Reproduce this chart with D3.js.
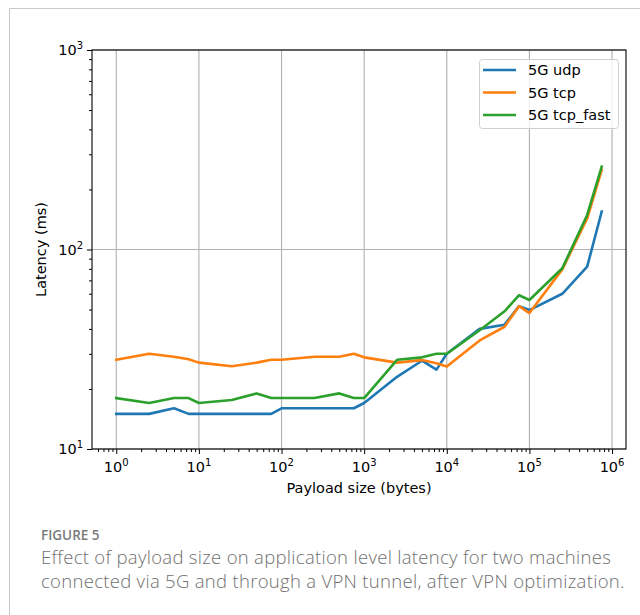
<!DOCTYPE html>
<html>
<head>
<meta charset="utf-8">
<script src="https://cdn.jsdelivr.net/npm/d3@7"></script>
<style>
  body { margin: 0; background: #fff; }
  svg { display: block; }
</style>
</head>
<body>
<div id="chart"></div>
<script>
// payload sizes (bytes) and latency per series (ms)
const payloadSizes = [1, 2.5, 5, 7.5, 10, 25, 50, 75, 100, 250, 500, 750, 1000, 2500, 5000, 7500,
  10000, 25000, 50000, 75000, 100000, 250000, 500000, 750000];
const udpLatency = [15, 15, 16, 15, 15, 15, 15, 15, 16, 16, 16, 16, 17, 23, 27.7, 25,
  30, 40, 42, 52, 49.7, 60, 82, 155];
const tcpLatency = [28, 30, 29, 28.2, 27.1, 26, 27.1, 28, 28, 29, 29, 30, 28.8, 27.1, 27.9, 26.9,
  25.9, 35, 41, 52, 48, 79.5, 143, 251];
const tcpFastLatency = [18, 17, 18, 18, 17, 17.6, 19, 18, 18, 18, 19, 18, 18, 28, 28.8, 30,
  30, 39.4, 49, 59, 55.8, 80.5, 149, 260];
const seriesNames = ["5G udp", "5G tcp", "5G tcp_fast"];
const seriesColors = ["#1f77b4", "#ff7f0e", "#2ca02c"];
const xTickExps = [0, 1, 2, 3, 4, 5, 6];
const yTickExps = [1, 2, 3];
const captionTitle = "FIGURE 5";
const captionLines = [
  "Effect of payload size on application level latency for two machines",
  "connected via 5G and through a VPN tunnel, after VPN optimization."
];

const width = 640;
const height = 615;
const margin = { left: 92, top: 50, right: 14, bottom: 166 };
const plotW = width - margin.left - margin.right;
const plotH = height - margin.top - margin.bottom;
const mplFont = "'DejaVu Sans', sans-serif";

const series = [udpLatency, tcpLatency, tcpFastLatency].map((vals, i) => ({
  name: seriesNames[i],
  color: seriesColors[i],
  points: payloadSizes.map((s, j) => ({ size: s, latency: vals[j] }))
}));

const svg = d3.select("#chart").append("svg")
  .attr("width", width)
  .attr("height", height);

// thin frame round the figure (left and top only are visible)
svg.append("path")
  .attr("d", `M9.5,${height} V8.5 H${width}`)
  .attr("fill", "none")
  .attr("stroke", "#c8c8c8")
  .attr("stroke-width", 1);

// log scales with matplotlib style 5% margins on x
const logMin = Math.log10(d3.min(payloadSizes));
const logMax = Math.log10(d3.max(payloadSizes));
const pad = (logMax - logMin) * 0.05;
const x = d3.scaleLog()
  .domain([Math.pow(10, logMin - pad), Math.pow(10, logMax + pad)])
  .range([0, plotW]);
const y = d3.scaleLog()
  .domain([10, 1000])
  .range([plotH, 0]);

const g = svg.append("g")
  .attr("transform", `translate(${margin.left},${margin.top})`);

// major grid lines
g.append("g")
  .selectAll("line")
  .data(xTickExps)
  .join("line")
  .attr("x1", d => x(Math.pow(10, d)))
  .attr("x2", d => x(Math.pow(10, d)))
  .attr("y1", 0)
  .attr("y2", plotH)
  .attr("stroke", "#b0b0b0")
  .attr("stroke-width", 1.1);

g.append("g")
  .selectAll("line")
  .data(yTickExps)
  .join("line")
  .attr("x1", 0)
  .attr("x2", plotW)
  .attr("y1", d => y(Math.pow(10, d)))
  .attr("y2", d => y(Math.pow(10, d)))
  .attr("stroke", "#b0b0b0")
  .attr("stroke-width", 1.1);

// axes: major ticks with custom labels, minor ticks without
const xMinor = [];
for (let e = -1; e <= 6; e++) {
  for (let m = 2; m <= 9; m++) {
    const v = m * Math.pow(10, e);
    if (v >= x.domain()[0] && v <= x.domain()[1]) xMinor.push(v);
  }
}
const yMinor = [];
for (let e = 1; e < 3; e++) {
  for (let m = 2; m <= 9; m++) yMinor.push(m * Math.pow(10, e));
}

const xMinorAxis = g.append("g")
  .attr("transform", `translate(0,${plotH})`)
  .call(d3.axisBottom(x).tickValues(xMinor).tickSize(3).tickFormat(""));
const yMinorAxis = g.append("g")
  .call(d3.axisLeft(y).tickValues(yMinor).tickSize(3).tickFormat(""));

const xAxis = g.append("g")
  .attr("transform", `translate(0,${plotH})`)
  .call(d3.axisBottom(x).tickValues(xTickExps.map(e => Math.pow(10, e))).tickSize(5).tickFormat(""));
const yAxis = g.append("g")
  .call(d3.axisLeft(y).tickValues(yTickExps.map(e => Math.pow(10, e))).tickSize(5).tickFormat(""));

[xMinorAxis, yMinorAxis, xAxis, yAxis].forEach(a => {
  a.select(".domain").remove();
  a.selectAll(".tick line").attr("stroke", "#000").attr("stroke-width", 1);
});

// power-of-ten tick labels
const xLabels = g.append("g")
  .selectAll("text")
  .data(xTickExps)
  .join("text")
  .attr("x", d => x(Math.pow(10, d)))
  .attr("y", plotH + 23)
  .attr("text-anchor", "middle")
  .style("font-family", mplFont)
  .style("font-size", "14.5px")
  .style("fill", "#000");
xLabels.append("tspan").text("10");
xLabels.append("tspan").attr("dy", -6).style("font-size", "10px").text(d => d);

const yLabels = g.append("g")
  .selectAll("text")
  .data(yTickExps)
  .join("text")
  .attr("x", -9)
  .attr("y", d => y(Math.pow(10, d)) + 5)
  .attr("text-anchor", "end")
  .style("font-family", mplFont)
  .style("font-size", "14.5px")
  .style("fill", "#000");
yLabels.append("tspan").text("10");
yLabels.append("tspan").attr("dy", -6).style("font-size", "10px").text(d => d);

// axis titles
g.append("text")
  .attr("x", plotW / 2)
  .attr("y", plotH + 44)
  .attr("text-anchor", "middle")
  .style("font-family", mplFont)
  .style("font-size", "14.5px")
  .text("Payload size (bytes)");

g.append("text")
  .attr("transform", `translate(${-46},${plotH / 2}) rotate(-90)`)
  .attr("text-anchor", "middle")
  .style("font-family", mplFont)
  .style("font-size", "14.5px")
  .text("Latency (ms)");

// data lines
const line = d3.line()
  .x(d => x(d.size))
  .y(d => y(d.latency));

g.append("g")
  .selectAll("path")
  .data(series)
  .join("path")
  .attr("d", d => line(d.points))
  .attr("fill", "none")
  .attr("stroke", d => d.color)
  .attr("stroke-width", 2.6)
  .attr("stroke-linejoin", "round")
  .attr("stroke-linecap", "square");

// plot frame
g.append("rect")
  .attr("width", plotW)
  .attr("height", plotH)
  .attr("fill", "none")
  .attr("stroke", "#000")
  .attr("stroke-width", 1.1);

// legend in the upper right corner
const legend = g.append("g")
  .attr("transform", `translate(${plotW - 147},9)`);

legend.append("rect")
  .attr("x", 0.5)
  .attr("y", 0.5)
  .attr("width", 139)
  .attr("height", 69)
  .attr("rx", 3)
  .attr("fill", "#fff")
  .attr("fill-opacity", 0.8)
  .attr("stroke", "#d0d0d0");

const rows = legend.selectAll("g.row")
  .data(series)
  .join("g")
  .attr("class", "row")
  .attr("transform", (_, i) => `translate(0,${11 + i * 22.5})`);

rows.append("line")
  .attr("x1", 4)
  .attr("x2", 37)
  .attr("stroke", d => d.color)
  .attr("stroke-width", 2.6);

rows.append("text")
  .attr("x", 49)
  .attr("y", 5)
  .style("font-family", mplFont)
  .style("font-size", "14.5px")
  .text(d => d.name);

// caption below the figure
svg.append("text")
  .attr("x", 41)
  .attr("y", 540)
  .style("font-family", "'Open Sans', sans-serif")
  .style("font-size", "13.5px")
  .style("font-weight", "600")
  .style("fill", "#7a7a7a")
  .text(captionTitle);

svg.append("g")
  .selectAll("text")
  .data(captionLines)
  .join("text")
  .attr("x", 41)
  .attr("y", (_, i) => 564 + i * 24)
  .style("font-family", "'Open Sans', sans-serif")
  .style("font-size", "18.5px")
  .style("font-weight", "300")
  .style("letter-spacing", "0.3px")
  .style("fill", "#707070")
  .text(d => d);
</script>
</body>
</html>
